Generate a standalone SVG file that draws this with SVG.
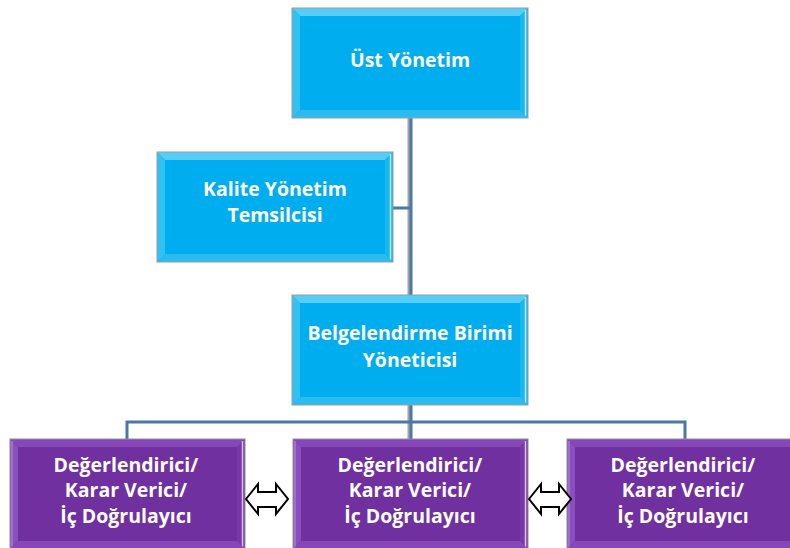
<svg xmlns="http://www.w3.org/2000/svg" width="790" height="548" viewBox="0 0 790 548">
<style>
.lbl{font-family:"Open Sans","Liberation Sans",sans-serif;font-weight:700;fill:#ffffff;text-anchor:middle;font-size:19.5px}
.conn{stroke:#4a78ab;stroke-width:3;fill:none}
.connsh{stroke:#a3a3a3;stroke-width:3;fill:none}
.arrow{fill:#ffffff;stroke:#000000;stroke-width:2;stroke-linejoin:miter}
</style>
<defs>
<g id="bbox">
<rect x="0" y="0" width="236" height="110" fill="#00adef"/>
<polygon points="0,0 236,0 228,8 8,8" fill="#55cdf6"/>
<polygon points="0,0 8,8 8,102 0,110" fill="#33c0f3"/>
<polygon points="236,0 236,110 228,102 228,8" fill="#1ab6ef"/>
<line x1="233.5" y1="2" x2="233.5" y2="108" stroke="#b5ebfc" stroke-width="1.5"/>
<polygon points="0,110 8,102 228,102 236,110" fill="#2abcf1"/>
<rect x="0" y="0" width="236" height="110" fill="none" stroke="#9d9d9d" stroke-width="1"/>
</g>
<g id="pbox">
<rect x="0" y="0" width="235" height="110" fill="#7030a0"/>
<polygon points="0,0 235,0 227,8 8,8" fill="#8648b8"/>
<polygon points="0,0 8,8 8,102 0,110" fill="#8a4fbe"/>
<line x1="2" y1="2" x2="2" y2="110" stroke="#a77ad2" stroke-width="1.5"/>
<polygon points="235,0 235,110 227,102 227,8" fill="#7838aa"/>
<line x1="232.5" y1="2" x2="232.5" y2="110" stroke="#d9c4ee" stroke-width="1.5"/>
<polygon points="0,110 8,102 227,102 235,110" fill="#8648b8"/>
<rect x="0" y="0" width="235" height="110" fill="none" stroke="#8f8f8f" stroke-width="1"/>
</g>
</defs>
<rect width="790" height="548" fill="#ffffff"/>
<g id="connectors">
<line class="connsh" x1="409" y1="118" x2="409" y2="295"/>
<line class="conn" x1="411" y1="118" x2="411" y2="295"/>
<line class="conn" x1="393" y1="208" x2="410" y2="208"/>
<line class="connsh" x1="409" y1="405" x2="409" y2="439"/>
<line class="conn" x1="411" y1="405" x2="411" y2="439"/>
<polyline class="conn" points="127,439 127,422 685,422 685,439"/>
</g>
<g id="ust-yonetim">
<use href="#bbox" x="292" y="8"/>
<text class="lbl" x="410" y="67">Üst Yönetim</text>
</g>
<g id="kalite">
<use href="#bbox" x="157" y="152"/>
<text class="lbl" x="275" y="196">Kalite Yönetim</text>
<text class="lbl" x="275" y="222">Temsilcisi</text>
</g>
<g id="belgelendirme">
<use href="#bbox" x="292" y="295"/>
<text class="lbl" x="410" y="340">Belgelendirme Birimi</text>
<text class="lbl" x="410" y="367">Yöneticisi</text>
</g>
<g id="deg1">
<use href="#pbox" x="10" y="439"/>
<text class="lbl" x="126" y="472">Değerlendirici/</text>
<text class="lbl" x="126" y="497">Karar Verici/</text>
<text class="lbl" x="126" y="523">İç Doğrulayıcı</text>
</g>
<g id="deg2">
<use href="#pbox" x="293" y="439"/>
<text class="lbl" x="410" y="472">Değerlendirici/</text>
<text class="lbl" x="410" y="497">Karar Verici/</text>
<text class="lbl" x="410" y="523">İç Doğrulayıcı</text>
</g>
<g id="deg3">
<use href="#pbox" x="567" y="439"/>
<text class="lbl" x="683" y="472">Değerlendirici/</text>
<text class="lbl" x="683" y="497">Karar Verici/</text>
<text class="lbl" x="683" y="523">İç Doğrulayıcı</text>
</g>
<g id="arrows">
<path class="arrow" d="M246,499 L258,484 L258,492 L276,492 L276,484 L288,499 L276,514 L276,507 L258,507 L258,514 Z"/>
<path class="arrow" d="M529,499 L541,484 L541,492 L559,492 L559,484 L571,499 L559,514 L559,507 L541,507 L541,514 Z"/>
</g>
</svg>
